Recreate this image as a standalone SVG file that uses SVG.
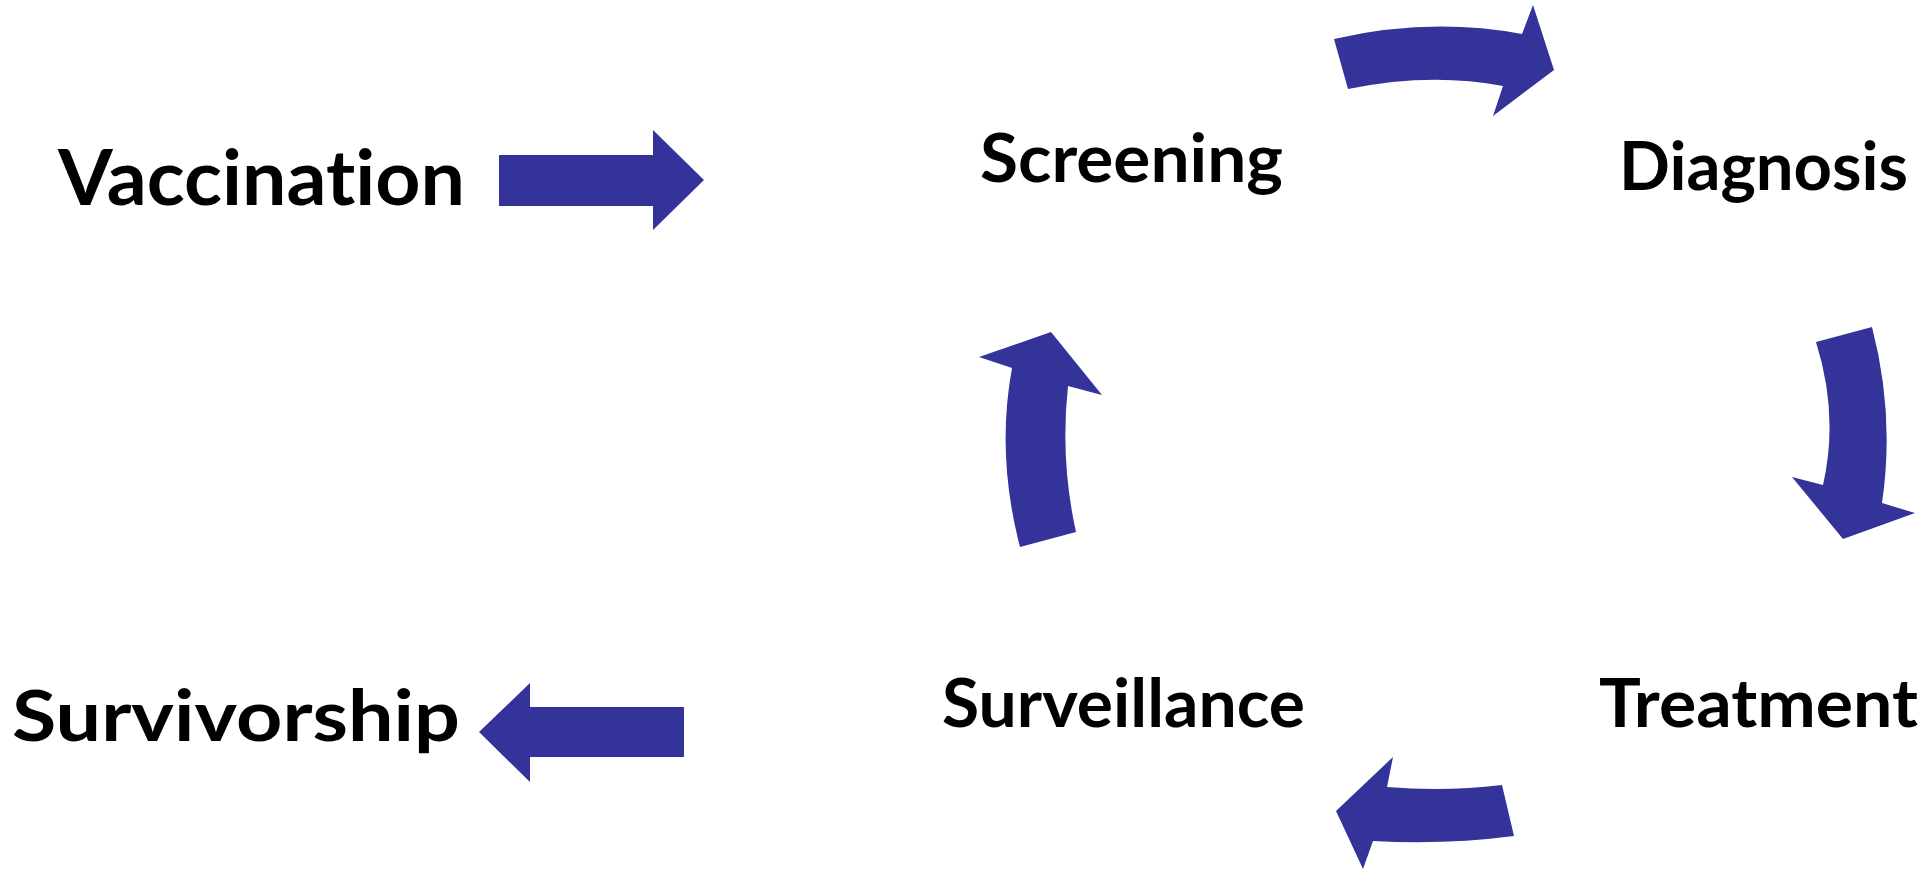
<svg xmlns="http://www.w3.org/2000/svg" width="1931" height="869" viewBox="0 0 1931 869">
  <style>
    .lbl { font-family: Lato, "Open Sans", "Liberation Sans", sans-serif; font-weight: 700; fill: #000000; font-variant-ligatures: none; font-feature-settings: "liga" 0, "clig" 0; }
    .arr { fill: #333399; stroke: none; }
  </style>
  <rect x="0" y="0" width="1931" height="869" fill="#ffffff"/>
  <g id="node-vaccination">
    <text class="lbl" x="58" y="205" font-size="76" textLength="407" lengthAdjust="spacingAndGlyphs">Vaccination</text>
  </g>
  <g id="node-survivorship">
    <text class="lbl" x="12" y="741" font-size="70" textLength="448" lengthAdjust="spacingAndGlyphs">Survivorship</text>
  </g>
  <g id="node-screening">
    <text class="lbl" x="980" y="182" font-size="66" textLength="303" lengthAdjust="spacingAndGlyphs">Screening</text>
  </g>
  <g id="node-diagnosis">
    <text class="lbl" x="1619" y="190" font-size="66" textLength="289" lengthAdjust="spacingAndGlyphs">Diagnosis</text>
  </g>
  <g id="node-treatment">
    <text class="lbl" x="1599" y="727" font-size="66" textLength="319" lengthAdjust="spacingAndGlyphs">Treatment</text>
  </g>
  <g id="node-surveillance">
    <text class="lbl" x="942" y="727" font-size="66" textLength="363" lengthAdjust="spacingAndGlyphs">Surveillance</text>
  </g>
  <g id="connectors">
    <path class="arr" d="M499,155 L653,155 L653,130 L704,180 L653,230 L653,206 L499,206 Z"/>
    <path class="arr" d="M684,707 L530,707 L530,683 L479,732 L530,782 L530,757 L684,757 Z"/>
    <path class="arr" d="M1348,89 L1334,39 Q1430,17 1522,34 L1533,5 L1554,70 L1493,116 L1503,86 Q1430,72 1348,89 Z"/>
    <path class="arr" d="M1816,342 L1872,327 Q1895,415 1882,503 L1915,513 L1843,539 L1792,477 L1823,485 Q1839,415 1816,342 Z"/>
    <path class="arr" d="M1502,785 L1514,836 Q1445,845 1373,841 L1363,869 L1336,811 L1393,757 L1387,787 Q1445,792 1502,785 Z"/>
    <path class="arr" d="M1020,547 L1076,532 Q1060,460 1068,386 L1102,395 L1051,332 L979,357 L1012,368 Q996,455 1020,547 Z"/>
  </g>
</svg>
